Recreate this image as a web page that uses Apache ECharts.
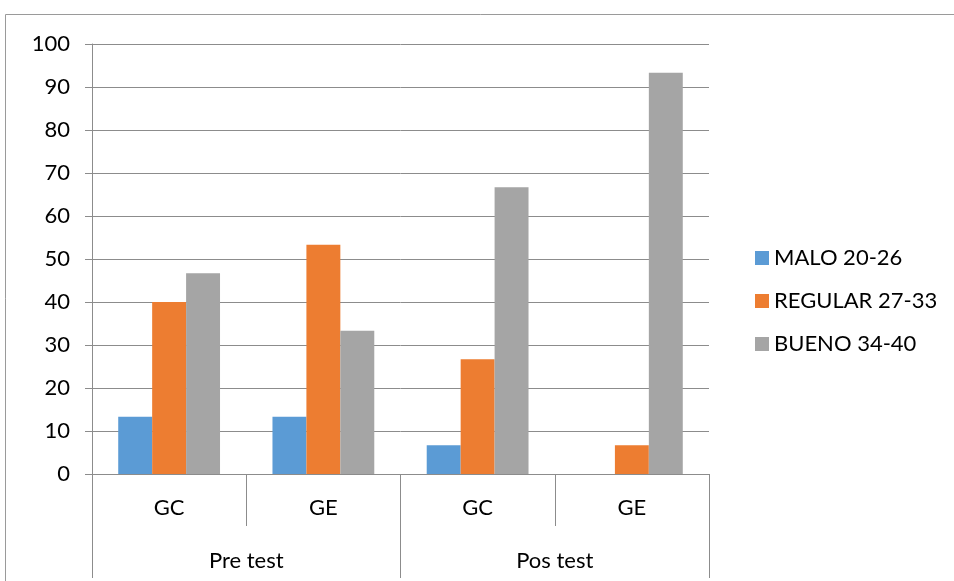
<!DOCTYPE html>
<html>
<head>
<meta charset="utf-8">
<script src="https://cdn.jsdelivr.net/npm/echarts@6/dist/echarts.min.js"></script>
<style>html,body{margin:0;padding:0;background:#fff}#c{width:954px;height:581px}</style>
</head>
<body>
<div id="c"></div>
<script>
const subCategories = ['GC', 'GE', 'GC', 'GE'];
const groupCategories = ['Pre test', 'Pos test'];
const seriesNames = ['MALO 20-26', 'REGULAR 27-33', 'BUENO 34-40'];
const malo = [13.3, 13.3, 6.7, 0];
const regular = [40, 53.3, 26.7, 6.7];
const bueno = [46.7, 33.3, 66.7, 93.3];
const colors = ['#5B9BD5', '#ED7D31', '#A5A5A5'];

const font = 'Lato, "Open Sans", sans-serif';
const fs = 22;
const lineColor = '#8c8c8c';
const chart = echarts.init(document.getElementById('c'));
chart.setOption({
  animation: false,
  color: colors,
  textStyle: { fontFamily: font },
  graphic: [{
    type: 'rect', silent: true,
    shape: { x: 5.5, y: 14.5, width: 1200, height: 1000 },
    style: { fill: 'none', stroke: '#9a9a9a', lineWidth: 1 }
  }],
  grid: { left: 92, right: 245, top: 44, bottom: 107, containLabel: false },
  legend: {
    orient: 'vertical', left: 750, top: 242,
    itemWidth: 14, itemHeight: 14, itemGap: 21,
    icon: 'rect',
    textStyle: { fontSize: fs, color: '#000', fontFamily: font, padding: [0, 0, 0, 0] },
    data: seriesNames
  },
  xAxis: [{
    type: 'category', data: subCategories, position: 'bottom',
    axisLine: { show: true, lineStyle: { color: lineColor } },
    axisTick: { show: true, interval: 0, length: 52, lineStyle: { color: lineColor } },
    axisLabel: { fontSize: fs, color: '#000', margin: 23, fontFamily: font }
  }, {
    type: 'category', data: groupCategories, position: 'bottom', offset: 52,
    axisLine: { show: false },
    axisTick: { show: true, interval: 0, length: 52, lineStyle: { color: lineColor } },
    axisLabel: { fontSize: fs, color: '#000', margin: 24, fontFamily: font }
  }],
  yAxis: {
    type: 'value', min: 0, max: 100, interval: 10,
    axisLine: { show: true, lineStyle: { color: lineColor } },
    axisTick: { show: true, length: 7, lineStyle: { color: lineColor } },
    splitLine: { lineStyle: { color: lineColor } },
    axisLabel: { fontSize: fs, color: '#000', margin: 22, fontFamily: font }
  },
  series: [
    { name: seriesNames[0], type: 'bar', data: malo, barGap: '0%', barCategoryGap: '34%' },
    { name: seriesNames[1], type: 'bar', data: regular, barGap: '0%', barCategoryGap: '34%' },
    { name: seriesNames[2], type: 'bar', data: bueno, barGap: '0%', barCategoryGap: '34%' }
  ]
});
</script>
</body>
</html>
